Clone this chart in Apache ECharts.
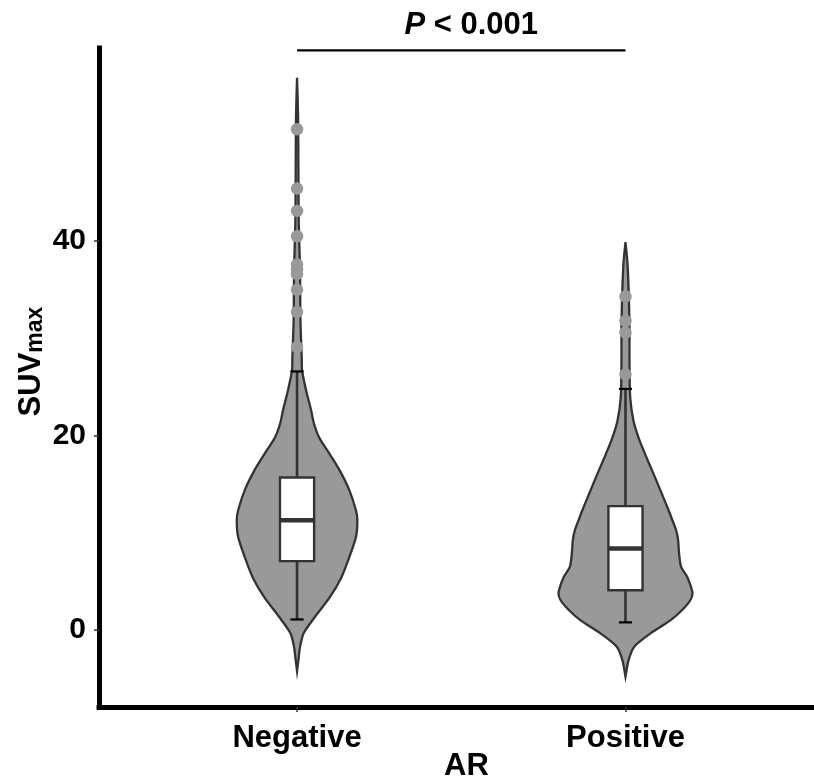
<!DOCTYPE html>
<html lang="en">
<head>
<meta charset="UTF-8">
<title>SUVmax by AR</title>
<script src="https://cdn.jsdelivr.net/npm/echarts@6/dist/echarts.min.js"></script>
<style>
    html, body { margin: 0; padding: 0; background: #fff; }
    #main { width: 814px; height: 780px; }
</style>
</head>
<body>
<div id="main"></div>
<script>
    // groups on the x axis (at positions 1 and 2)
    var groups = ['Negative', 'Positive'];

    // violin outline: SUVmax level and relative density (1 = widest)
    var negDensityY = [-4.2, -3.0, -1.7, -0.3, 1.3, 3.4, 5.4, 7.5, 9.6, 11.3, 12.3, 14.4, 16.5, 18.5, 19.8, 21.3, 22.6, 24.7, 26.7, 28.0, 32.0, 37.0, 42.0, 48.0, 53.0, 56.8];
    var negDensity  = [0, 0.022, 0.045, 0.10, 0.26, 0.49, 0.66, 0.78, 0.88, 0.90, 0.88, 0.78, 0.63, 0.45, 0.33, 0.25, 0.21, 0.134, 0.075, 0.07, 0.05, 0.045, 0.025, 0.02, 0.015, 0];
    var posDensityY = [-4.8, -3.1, -1.7, -0.3, 1.0, 2.1, 3.1, 3.8, 4.4, 5.5, 6.5, 7.9, 9.3, 10.3, 11.3, 12.3, 13.4, 15.4, 17.5, 19.5, 21.5, 24.0, 27.5, 31.0, 34.3, 37.7, 39.9];
    var posDensity  = [0, 0.045, 0.13, 0.38, 0.67, 0.85, 0.97, 1.0, 0.98, 0.92, 0.83, 0.80, 0.785, 0.755, 0.70, 0.645, 0.58, 0.46, 0.33, 0.21, 0.12, 0.07, 0.06, 0.06, 0.05, 0.03, 0];

    // box statistics: [lower whisker, Q1, median, Q3, upper whisker]
    var negBox = [1.1, 7.1, 11.3, 15.7, 26.6];
    var posBox = [0.8, 4.1, 8.4, 12.75, 24.8];

    // outliers
    var negOutliers = [51.5, 45.4, 43.1, 40.5, 37.6, 37.1, 36.6, 35.0, 32.7, 29.1];
    var posOutliers = [34.3, 31.8, 30.6, 26.3];

    // y ticks
    var yTicks = [0, 20, 40];

    var chart = echarts.init(document.getElementById('main'));
    var FONT = '"Liberation Sans", Arial, Helvetica, sans-serif';

    var violinHalf = 0.204;   // widest half-width, x units
    var boxHalf = 0.052;
    var capHalf = 0.02;

    function renderViolin(params, api) {
        var g = api.value(0);
        var ys = g === 1 ? negDensityY : posDensityY;
        var ds = g === 1 ? negDensity : posDensity;
        var right = [], left = [];
        for (var i = 0; i < ys.length; i++) {
            right.push(api.coord([g + ds[i] * violinHalf, ys[i]]));
            left.unshift(api.coord([g - ds[i] * violinHalf, ys[i]]));
        }
        return {
            type: 'polygon',
            shape: { points: right.concat(left), smooth: 0.25 },
            style: { fill: '#999999', stroke: '#333333', lineWidth: 2.3 }
        };
    }

    function renderBox(params, api) {
        var g = api.value(0);
        var b = g === 1 ? negBox : posBox;
        var lo = api.coord([g, b[0]]), q1 = api.coord([g, b[1]]);
        var q3 = api.coord([g, b[3]]), hi = api.coord([g, b[4]]);
        var l1 = api.coord([g - boxHalf, b[1]]), r3 = api.coord([g + boxHalf, b[3]]);
        var ml = api.coord([g - boxHalf, b[2]]), mr = api.coord([g + boxHalf, b[2]]);
        var cl = api.coord([g - capHalf, 0])[0], cr = api.coord([g + capHalf, 0])[0];
        var line = { stroke: '#333333', lineWidth: 2.6 };
        return {
            type: 'group',
            children: [
                { type: 'line', shape: { x1: q3[0], y1: q3[1], x2: hi[0], y2: hi[1] }, style: line },
                { type: 'line', shape: { x1: q1[0], y1: q1[1], x2: lo[0], y2: lo[1] }, style: line },
                { type: 'rect', shape: { x: l1[0], y: r3[1], width: r3[0] - l1[0], height: l1[1] - r3[1] },
                  style: { fill: '#ffffff', stroke: '#333333', lineWidth: 2.4 } },
                { type: 'line', shape: { x1: ml[0], y1: ml[1], x2: mr[0], y2: mr[1] },
                  style: { stroke: '#333333', lineWidth: 4.5 } },
                { type: 'line', shape: { x1: cl, y1: hi[1], x2: cr, y2: hi[1] }, style: { stroke: '#000', lineWidth: 2.2 } },
                { type: 'line', shape: { x1: cl, y1: lo[1], x2: cr, y2: lo[1] }, style: { stroke: '#000', lineWidth: 2.2 } }
            ]
        };
    }

    function renderSignif(params, api) {
        var a = api.coord([1, 59.6]), b = api.coord([2, 59.6]);
        return {
            type: 'group',
            children: [
                { type: 'line', shape: { x1: a[0], y1: a[1], x2: b[0], y2: b[1] },
                  style: { stroke: '#000', lineWidth: 2.2 } },
                { type: 'text', x: (a[0] + b[0]) / 2 + 10, y: a[1] - 25,
                  style: {
                      text: '{i|P}{b| < 0.001}',
                      align: 'center', verticalAlign: 'middle',
                      rich: {
                          i: { fontFamily: FONT, fontSize: 31, fontWeight: 'bold', fontStyle: 'italic', fill: '#000' },
                          b: { fontFamily: FONT, fontSize: 31, fontWeight: 'bold', fill: '#000' }
                      }
                  } }
            ]
        };
    }

    var option = {
        animation: false,
        grid: { left: 99, right: 0, top: 48, bottom: 73, containLabel: false, outerBoundsMode: 'none' },
        xAxis: {
            type: 'value', min: 0.397, max: 2.574,
            splitLine: { show: false },
            axisLine: { onZero: false, lineStyle: { color: '#000', width: 5, cap: 'square' } },
            axisTick: { customValues: [1, 2], length: 5, lineStyle: { color: '#333', width: 1.5 } },
            axisLabel: {
                customValues: [1, 2], margin: 16,
                formatter: function (v) { return groups[Math.round(v) - 1]; },
                fontFamily: FONT, fontSize: 31, fontWeight: 'bold', color: '#000'
            },
            name: 'AR', nameLocation: 'middle', nameGap: 44, nameMoveOverlap: false,
            nameTextStyle: { fontFamily: FONT, fontSize: 31, fontWeight: 'bold', color: '#000', padding: [0, 0, 0, 20] }
        },
        yAxis: {
            type: 'value', min: -7.9, max: 59.85,
            splitLine: { show: false },
            axisLine: { onZero: false, lineStyle: { color: '#000', width: 5, cap: 'square' } },
            axisTick: { customValues: yTicks, length: 5, lineStyle: { color: '#333', width: 1.5 } },
            axisLabel: {
                customValues: yTicks, margin: 13,
                fontFamily: FONT, fontSize: 30, fontWeight: 'bold', color: '#000'
            },
            name: '{a|SUV}{s|max}', nameLocation: 'middle', nameGap: 52, nameRotate: 90, nameMoveOverlap: false,
            nameTextStyle: {
                padding: [0, 0, 0, 32],
                rich: {
                    a: { fontFamily: FONT, fontSize: 31, fontWeight: 'bold', color: '#000', verticalAlign: 'bottom' },
                    s: { fontFamily: FONT, fontSize: 23, fontWeight: 'bold', color: '#000', verticalAlign: 'bottom' }
                }
            }
        },
        series: [
            { type: 'custom', renderItem: renderViolin, data: [[1], [2]], z: 2 },
            { type: 'custom', renderItem: renderBox, data: [[1], [2]], z: 3 },
            {
                type: 'scatter', symbolSize: 12.5, z: 4,
                itemStyle: { color: '#999999', opacity: 1 },
                data: negOutliers.map(function (v) { return [1, v]; })
                    .concat(posOutliers.map(function (v) { return [2, v]; }))
            },
            { type: 'custom', renderItem: renderSignif, data: [[1]], z: 5, clip: false }
        ]
    };

    chart.setOption(option);
</script>
</body>
</html>
